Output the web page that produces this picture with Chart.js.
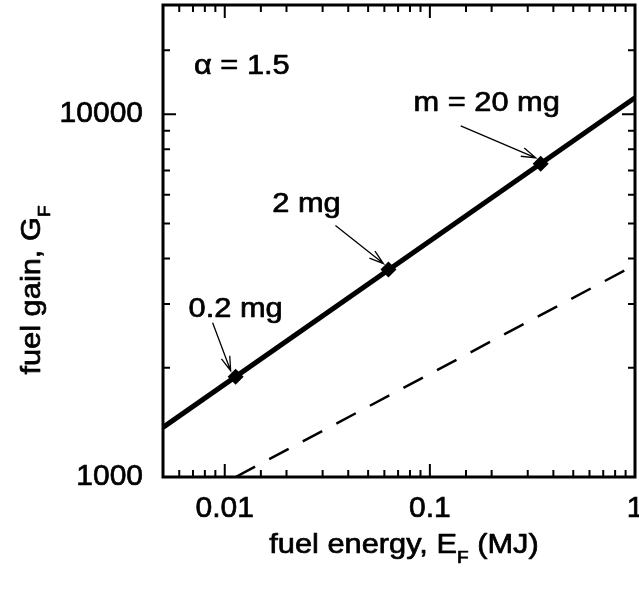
<!DOCTYPE html>
<html>
<head>
<meta charset="utf-8">
<script src="https://cdn.jsdelivr.net/npm/chart.js@4.4.1/dist/chart.umd.min.js"></script>
<style>
  html, body { margin: 0; padding: 0; background: #fff; }
  #wrap { width: 639px; height: 603px; }
</style>
</head>
<body>
<div id="wrap"><canvas id="gainChart"></canvas></div>
<script>
// fuel gain vs fuel energy, alpha = 1.5
const solidEnergy = [0.005, 1];
const solidGain = [1370, 11100];
const dashedEnergy = [0.0113, 1];
const dashedGain = [1000, 3840];
const markerEnergy = [0.0113, 0.0628, 0.347];
const markerGain = [1890, 3730, 7300];
const markerLabels = ['0.2 mg', '2 mg', 'm = 20 mg'];
const xTickLabels = [0.01, 0.1, 1];
const yTickLabels = [1000, 10000];

const FONT = "'Liberation Sans', Arial, Helvetica, sans-serif";
const INK = '#000';

// label placement relative to each marker: [text dx, text baseline dy, arrow start dx, dy]
const labelOffsets = [
  [0, -60, -23, -54],
  [-82, -58, -53, -44],
  [-54, -53, -80, -38]
];

const toPoints = (xs, ys) => xs.map((x, i) => ({ x: x, y: ys[i] }));
const isDecade = v => Math.abs(Math.log10(v) - Math.round(Math.log10(v))) < 1e-6;
const pick = (list, v) => list.find(t => Math.abs(t - v) / t < 1e-6);

// text stretched a little wider and heavier, like the original typesetting
function stretchText(ctx, parts, x, y, size, align) {
  const sx = 1.1;
  ctx.save();
  ctx.translate(x, y);
  ctx.scale(sx, 1);
  const widths = parts.map(p => {
    ctx.font = (p.sub ? size * 0.62 : size) + 'px ' + FONT;
    return ctx.measureText(p.t).width;
  });
  const total = widths.reduce((a, b) => a + b, 0);
  let cx = align === 'center' ? -total / 2 : 0;
  ctx.textBaseline = 'alphabetic';
  ctx.textAlign = 'left';
  ctx.lineWidth = 0.7;
  ctx.lineJoin = 'round';
  parts.forEach((p, i) => {
    ctx.font = (p.sub ? size * 0.62 : size) + 'px ' + FONT;
    const ty = p.sub ? size * 0.34 : 0;
    ctx.fillText(p.t, cx, ty);
    ctx.strokeText(p.t, cx, ty);
    cx += widths[i];
  });
  ctx.restore();
}

function arrow(ctx, x0, y0, x1, y1) {
  const ang = Math.atan2(y1 - y0, x1 - x0);
  const head = 15, spread = 0.3;
  ctx.beginPath();
  ctx.moveTo(x0, y0);
  ctx.lineTo(x1, y1);
  ctx.moveTo(x1 - head * Math.cos(ang - spread), y1 - head * Math.sin(ang - spread));
  ctx.lineTo(x1, y1);
  ctx.lineTo(x1 - head * Math.cos(ang + spread), y1 - head * Math.sin(ang + spread));
  ctx.stroke();
}

const framePlugin = {
  id: 'framePlugin',
  afterDraw(chart) {
    const { ctx, chartArea: a, scales: { x, y } } = chart;
    ctx.save();
    ctx.strokeStyle = INK;
    ctx.fillStyle = INK;

    // inward ticks on all four sides
    ctx.lineWidth = 2;
    ctx.beginPath();
    x.ticks.forEach(t => {
      const px = x.getPixelForValue(t.value);
      const len = isDecade(t.value) ? 13 : 7;
      ctx.moveTo(px, a.bottom); ctx.lineTo(px, a.bottom - len);
      ctx.moveTo(px, a.top); ctx.lineTo(px, a.top + len);
    });
    y.ticks.forEach(t => {
      const py = y.getPixelForValue(t.value);
      const len = isDecade(t.value) ? 13 : 7;
      ctx.moveTo(a.left, py); ctx.lineTo(a.left + len, py);
      ctx.moveTo(a.right, py); ctx.lineTo(a.right - len, py);
    });
    ctx.stroke();

    ctx.lineWidth = 3;
    ctx.strokeRect(a.left, a.top, a.right - a.left, a.bottom - a.top);

    // marker labels with arrows
    markerEnergy.forEach((e, i) => {
      const mx = x.getPixelForValue(e);
      const my = y.getPixelForValue(markerGain[i]);
      const o = labelOffsets[i];
      stretchText(ctx, [{ t: markerLabels[i] }], mx + o[0], my + o[1], 28, 'center');
      ctx.lineWidth = 1.3;
      arrow(ctx, mx + o[2], my + o[3], mx - 5, my - 6);
    });

    stretchText(ctx, [{ t: '\u03b1 = 1.5' }], a.left + 31, 74, 28, 'left');

    // axis titles
    stretchText(ctx, [{ t: 'fuel energy, E' }, { t: 'F', sub: true }, { t: ' (MJ)' }],
      (a.left + a.right) / 2 + 5, 553, 28, 'center');
    ctx.save();
    ctx.translate(40, 290);
    ctx.rotate(-Math.PI / 2);
    stretchText(ctx, [{ t: 'fuel gain, G' }, { t: 'F', sub: true }], 0, 0, 28, 'center');
    ctx.restore();

    ctx.restore();
  }
};

const noPadding = () => ({ left: 0, right: 0, top: 0, bottom: 0 });

new Chart(document.getElementById('gainChart'), {
  type: 'scatter',
  data: {
    datasets: [
      {
        data: toPoints(solidEnergy, solidGain),
        showLine: true,
        borderColor: INK,
        borderWidth: 5,
        pointRadius: 0
      },
      {
        data: toPoints(dashedEnergy, dashedGain),
        showLine: true,
        borderColor: INK,
        borderWidth: 2.5,
        borderDash: [22, 16],
        pointRadius: 0
      },
      {
        data: toPoints(markerEnergy, markerGain),
        showLine: false,
        pointStyle: 'rectRot',
        pointRadius: 8,
        backgroundColor: INK,
        borderColor: INK,
        borderWidth: 0
      }
    ]
  },
  options: {
    responsive: true,
    maintainAspectRatio: false,
    animation: false,
    layout: { autoPadding: false, padding: { left: 0, right: 4, top: 5, bottom: 0 } },
    plugins: { legend: { display: false }, tooltip: { enabled: false } },
    scales: {
      x: {
        type: 'logarithmic',
        min: 0.005,
        max: 1,
        grid: { display: false, drawTicks: false },
        border: { display: false },
        ticks: {
          autoSkip: false,
          maxRotation: 0,
          padding: 14,
          color: INK,
          textStrokeColor: INK,
          textStrokeWidth: 0.7,
          font: { family: FONT, size: 30 },
          callback: v => { const t = pick(xTickLabels, v); return t ? String(t) : ''; }
        },
        afterFit: s => {
          s.height = 126;
          s.paddingLeft = 0;
          s.paddingRight = 0;
          s.getPadding = noPadding;
        }
      },
      y: {
        type: 'logarithmic',
        min: 1000,
        max: 20000,
        grid: { display: false, drawTicks: false },
        border: { display: false },
        ticks: {
          autoSkip: false,
          padding: 20,
          color: INK,
          textStrokeColor: INK,
          textStrokeWidth: 0.7,
          font: { family: FONT, size: 30 },
          callback: v => { const t = pick(yTickLabels, v); return t ? String(t) : ''; }
        },
        afterFit: s => {
          s.width = 163;
          s.paddingTop = 0;
          s.paddingBottom = 0;
          s.getPadding = noPadding;
        }
      }
    }
  },
  plugins: [framePlugin]
});
</script>
</body>
</html>
